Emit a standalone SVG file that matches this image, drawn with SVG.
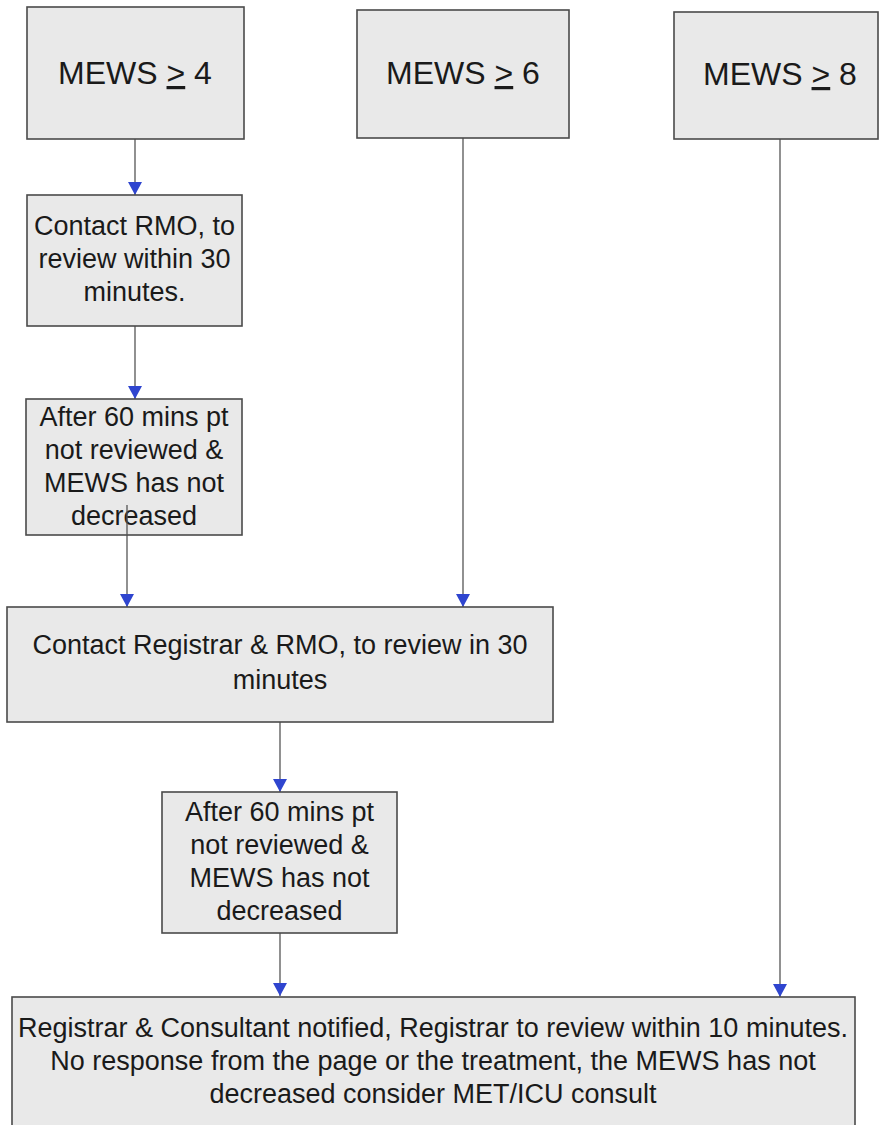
<svg xmlns="http://www.w3.org/2000/svg" width="879" height="1125" viewBox="0 0 879 1125">
<style>
.box{fill:#e9e9e9;stroke:#4a4a4a;stroke-width:1.6}
.t{font-family:"Liberation Sans",Arial,sans-serif;fill:#1a1a1a;text-anchor:middle}
.big{font-size:32px}
.mid{font-size:27px}
.con{stroke:#555;stroke-width:1.3;fill:none;marker-end:url(#ah)}
</style>
<defs>
<marker id="ah" markerUnits="userSpaceOnUse" markerWidth="14" markerHeight="14" refX="13" refY="7" orient="auto">
<path d="M0,0 L13,7 L0,14 z" fill="#2f45cf"/>
</marker>
</defs>
<rect width="879" height="1125" fill="#ffffff"/>
<g id="connectors">
<line class="con" x1="135" y1="139" x2="135" y2="195"/>
<line class="con" x1="135" y1="326" x2="135" y2="399"/>
<line class="con" x1="127" y1="505" x2="127" y2="607"/>
<line class="con" x1="463" y1="138" x2="463" y2="607"/>
<line class="con" x1="280" y1="722" x2="280" y2="792"/>
<line class="con" x1="280" y1="933" x2="280" y2="996"/>
<line class="con" x1="780" y1="139" x2="780" y2="997"/>
</g>
<g id="n1">
<rect class="box" x="27" y="7" width="217" height="132"/>
<text class="t big" x="135" y="84">MEWS <tspan text-decoration="underline">&gt;</tspan> 4</text>
</g>
<g id="n2">
<rect class="box" x="357" y="10" width="212" height="128"/>
<text class="t big" x="463" y="84">MEWS <tspan text-decoration="underline">&gt;</tspan> 6</text>
</g>
<g id="n3">
<rect class="box" x="674" y="12" width="204" height="127"/>
<text class="t big" x="780" y="85">MEWS <tspan text-decoration="underline">&gt;</tspan> 8</text>
</g>
<g id="n4">
<rect class="box" x="27" y="195" width="215" height="131"/>
<text class="t mid" x="134.5" y="235">Contact RMO, to</text>
<text class="t mid" x="134.5" y="268">review within 30</text>
<text class="t mid" x="134.5" y="301">minutes.</text>
</g>
<g id="n5">
<rect class="box" x="26" y="399" width="216" height="136"/>
<text class="t mid" x="134" y="426">After 60 mins pt</text>
<text class="t mid" x="134" y="459">not reviewed &amp;</text>
<text class="t mid" x="134" y="492">MEWS has not</text>
<text class="t mid" x="134" y="525">decreased</text>
</g>
<line x1="127" y1="505" x2="127" y2="535" stroke="#555" stroke-width="1.3"/>
<g id="n6">
<rect class="box" x="7" y="607" width="546" height="115"/>
<text class="t mid" x="280" y="654">Contact Registrar &amp; RMO, to review in 30</text>
<text class="t mid" x="280" y="689">minutes</text>
</g>
<g id="n7">
<rect class="box" x="162" y="792" width="235" height="141"/>
<text class="t mid" x="279.5" y="821">After 60 mins pt</text>
<text class="t mid" x="279.5" y="854">not reviewed &amp;</text>
<text class="t mid" x="279.5" y="887">MEWS has not</text>
<text class="t mid" x="279.5" y="920">decreased</text>
</g>
<g id="n8">
<rect class="box" x="12" y="997" width="843" height="140"/>
<text class="t mid" x="433" y="1037">Registrar &amp; Consultant notified, Registrar to review within 10 minutes.</text>
<text class="t mid" x="433" y="1070">No response from the page or the treatment, the MEWS has not</text>
<text class="t mid" x="433" y="1103">decreased consider MET/ICU consult</text>
</g>
</svg>
